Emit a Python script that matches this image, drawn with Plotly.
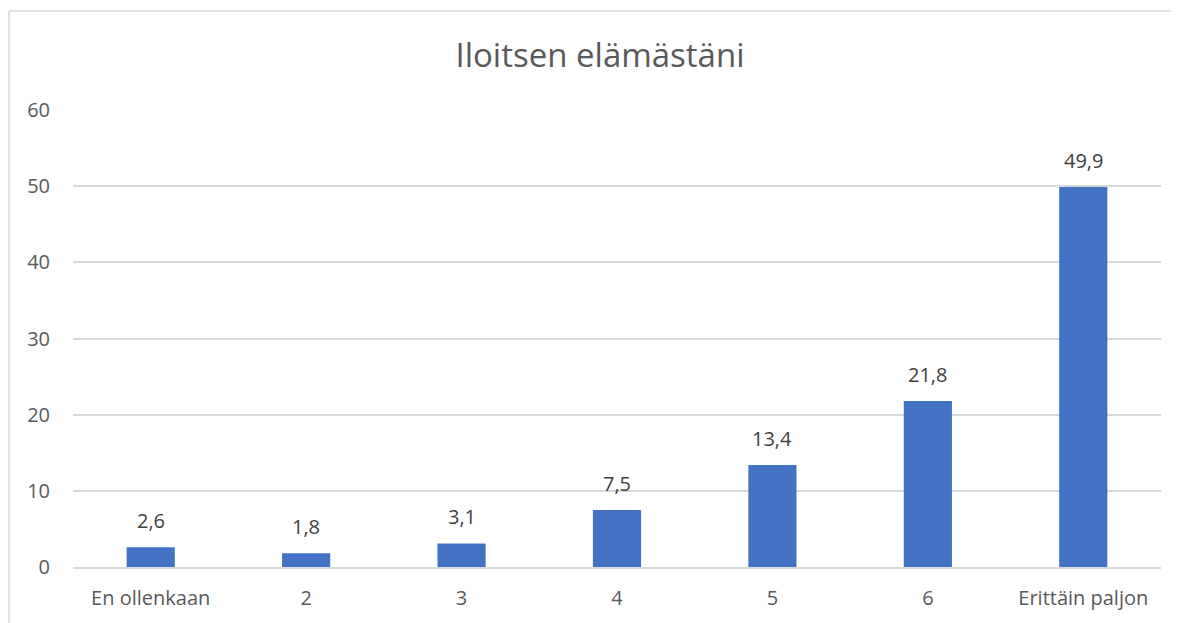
import plotly.graph_objects as go

categories = ["En ollenkaan", "2", "3", "4", "5", "6", "Erittäin paljon"]
values = [2.6, 1.8, 3.1, 7.5, 13.4, 21.8, 49.9]
y_ticks = [0, 10, 20, 30, 40, 50, 60]
title_text = "Iloitsen elämästäni"

W, H = 1179, 623
L, R, T, B = 65, 26, 102, 64
pw, ph = W - L - R, H - T - B

TXT = "#595959"
FONT = "Open Sans"

fig = go.Figure()
fig.add_trace(go.Bar(
    x=categories, y=values,
    marker=dict(color="#4472C4", line=dict(width=0)),
    width=0.31,
    hoverinfo="skip",
))

for i, v in enumerate(values):
    fig.add_annotation(
        x=i, y=v, xref="x", yref="y",
        text=f"{v:.1f}".replace(".", ","),
        showarrow=False, yanchor="bottom", yshift=11,
        font=dict(family=FONT, size=20, color="#404040"),
    )

# outer chart border (left and top visible)
fig.add_shape(type="line", xref="paper", yref="paper",
              x0=(1 - L) / pw, x1=(W + 5 - L) / pw,
              y0=1 + (T - 3) / ph, y1=1 + (T - 3) / ph,
              line=dict(color="#D9D9D9", width=1.5))
fig.add_shape(type="line", xref="paper", yref="paper",
              x0=(1 - L) / pw, x1=(1 - L) / pw,
              y0=1 + (T - 3) / ph, y1=-(B + 5) / ph,
              line=dict(color="#D9D9D9", width=1.5))

fig.update_layout(
    width=W, height=H,
    margin=dict(l=L, r=R, t=T, b=B),
    paper_bgcolor="white", plot_bgcolor="white",
    separators=",.",
    showlegend=False,
    title=dict(text=title_text, x=(592 - L) / pw, xanchor="center", xref="paper",
               y=1 - 47 / H, yanchor="middle",
               font=dict(family=FONT, size=33, color=TXT)),
    font=dict(family=FONT, color=TXT),
)
fig.update_xaxes(
    type="category",
    showgrid=False, showline=True, linecolor="#D9D9D9", linewidth=1.5,
    ticks="", tickfont=dict(family=FONT, size=20, color=TXT),
    ticklabelstandoff=12, fixedrange=True,
)
fig.update_yaxes(
    range=[0, 60], tickvals=y_ticks, showgrid=True, gridcolor="#D9D9D9",
    gridwidth=1.5, zeroline=False, showline=False, ticks="",
    tickfont=dict(family=FONT, size=20, color=TXT),
    ticklabelstandoff=22, fixedrange=True,
)

fig.write_html("out.html", config={"displayModeBar": False})
